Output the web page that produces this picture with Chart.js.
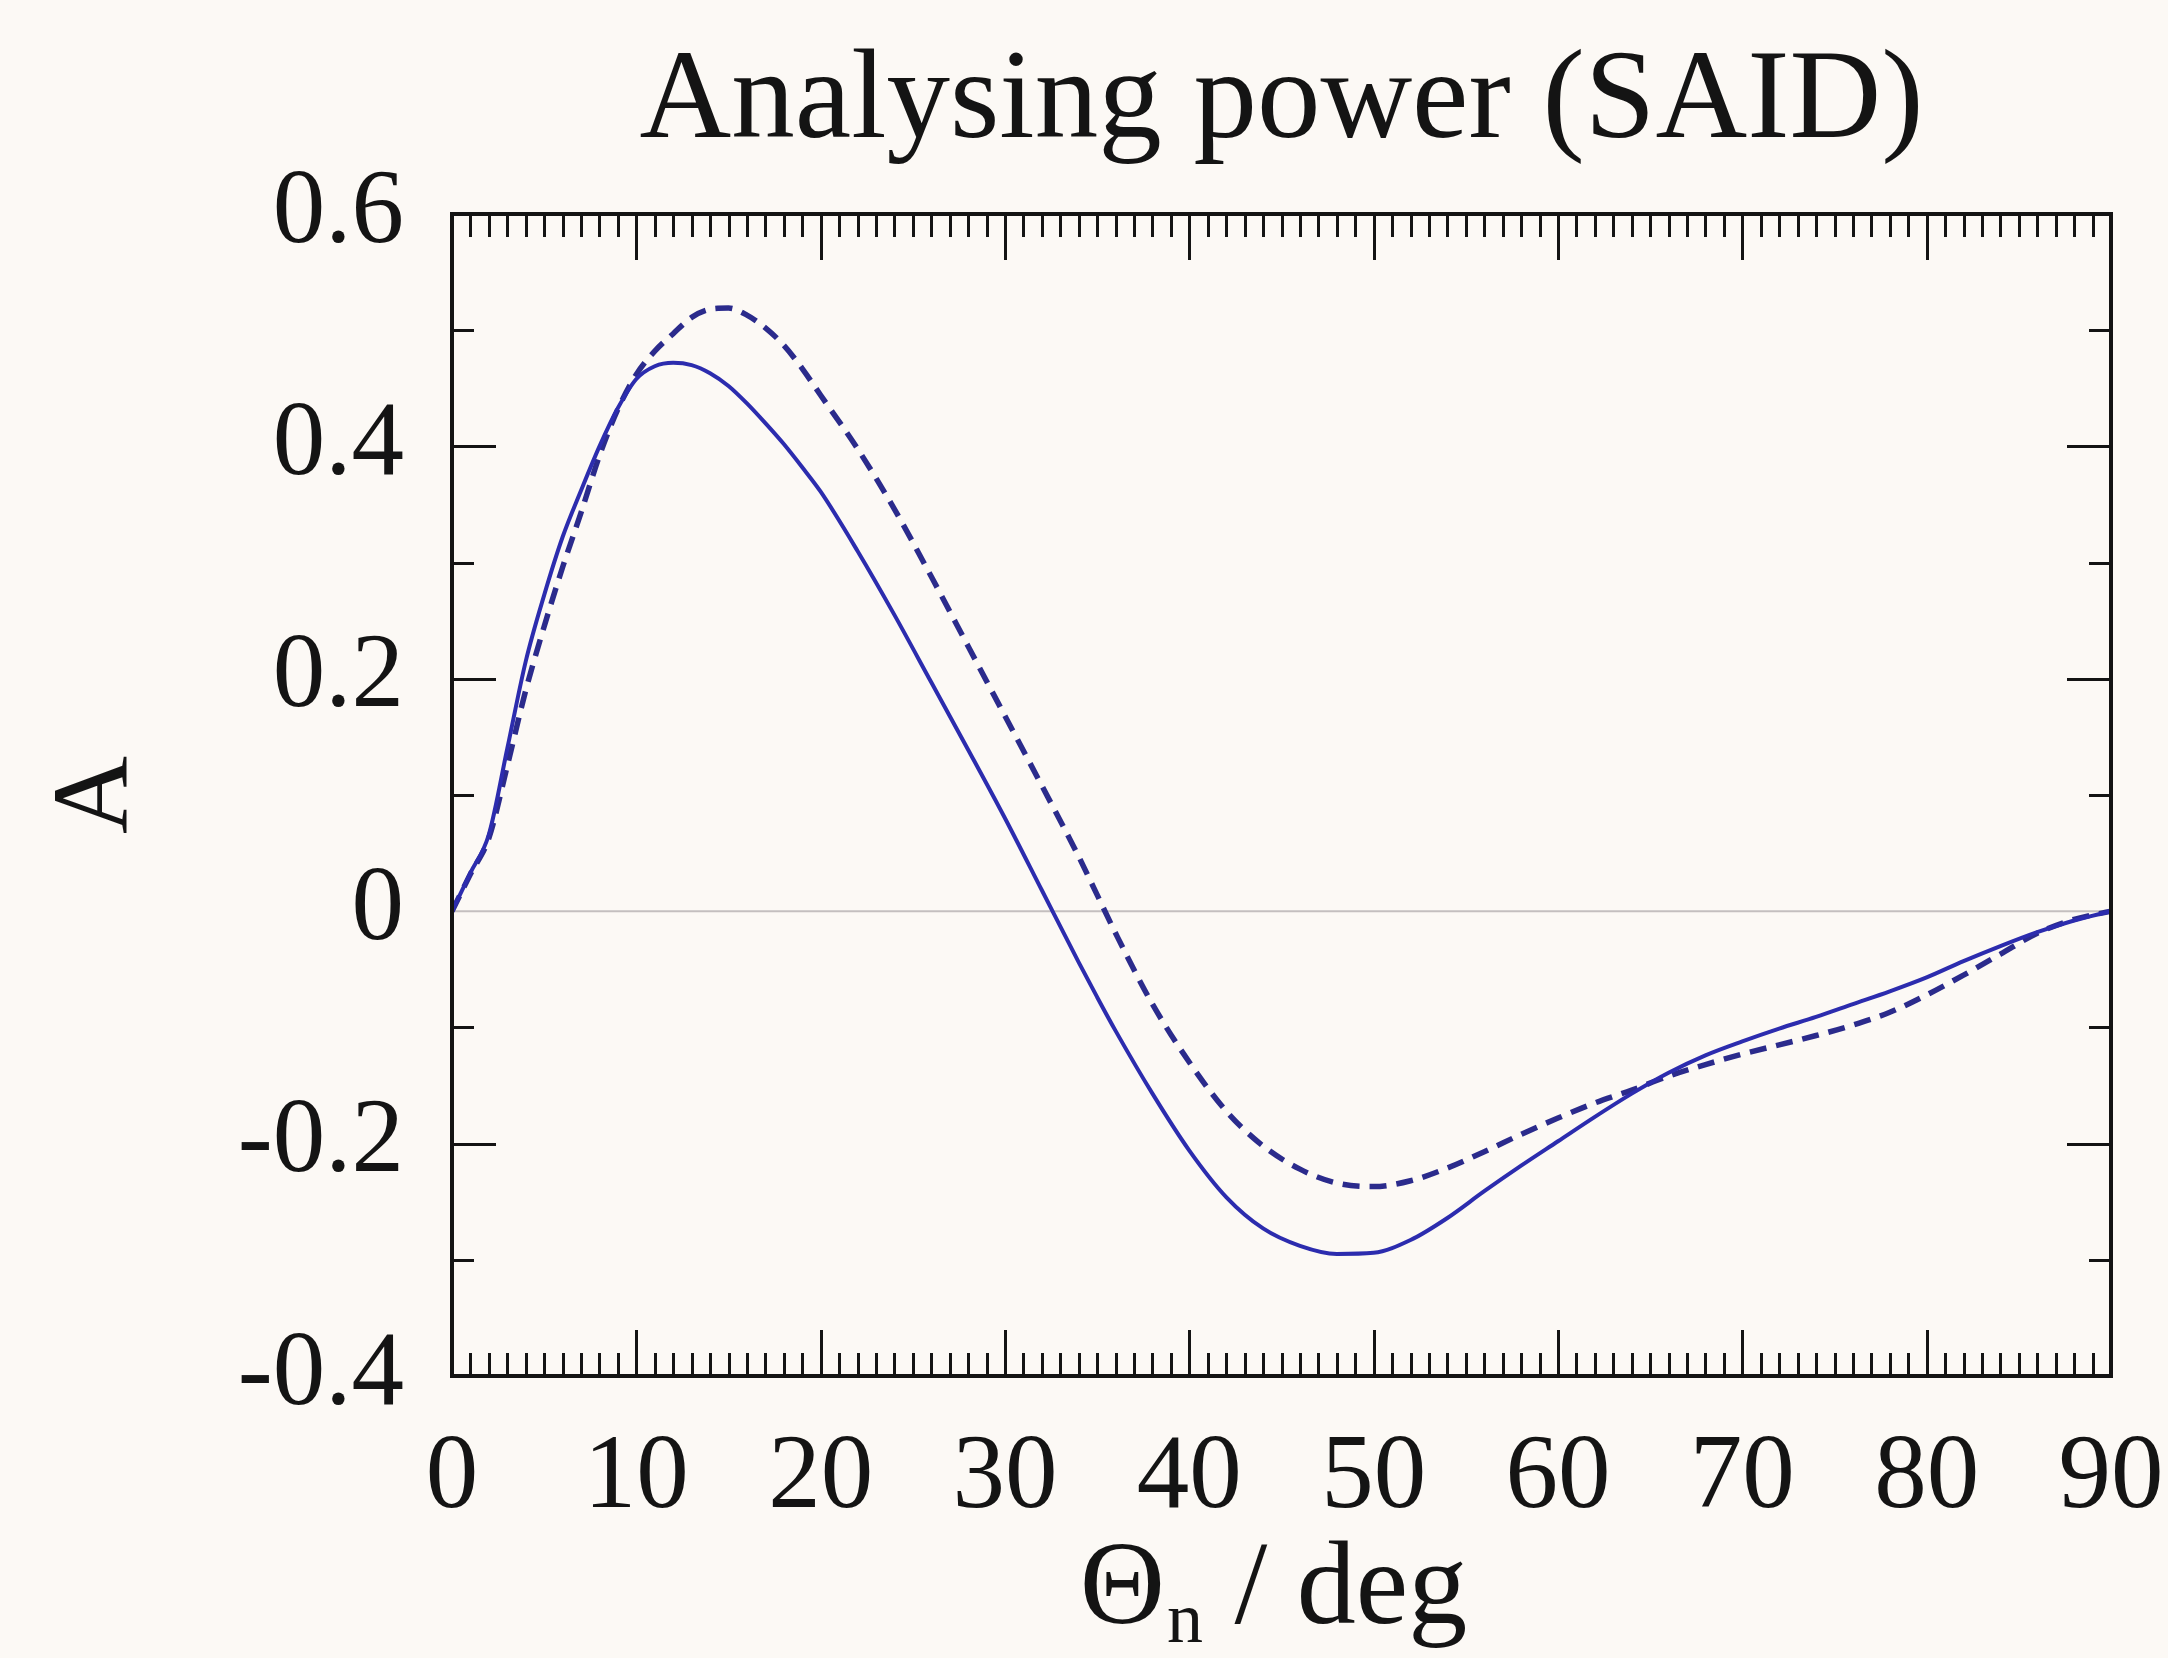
<!DOCTYPE html>
<html>
<head>
<meta charset="utf-8">
<title>Analysing power (SAID)</title>
<script src="https://cdn.jsdelivr.net/npm/chart.js@4.4.1/dist/chart.umd.min.js"></script>
<style>
  html, body { margin: 0; padding: 0; background: #fcf9f5; }
  #wrap { position: relative; width: 2168px; height: 1658px; }
</style>
</head>
<body>
<div id="wrap"><canvas id="chart-ap"></canvas></div>
<script>
// Analysing power A vs. Θn, SAID solution (solid) and comparison curve (dashed)
const ANGLES = [0, 1, 2, 3, 4, 5, 6, 7, 8, 9, 10, 11, 12, 13, 14, 15, 16, 17, 18, 19, 20,
  22, 24, 26, 28, 30, 32, 34, 35, 36, 38, 40, 42, 44, 46, 48, 50, 52, 54, 56, 58, 60,
  62, 64, 66, 68, 70, 72, 74, 76, 78, 80, 82, 84, 86, 88, 90];

const A_SOLID = [0, 0.033, 0.066, 0.14, 0.215, 0.272, 0.322, 0.362, 0.400, 0.433, 0.458,
  0.469, 0.472, 0.470, 0.463, 0.452, 0.437, 0.420, 0.402, 0.382, 0.361,
  0.310, 0.255, 0.197, 0.139, 0.080, 0.018, -0.044, -0.074, -0.103, -0.157, -0.206,
  -0.246, -0.273, -0.288, -0.295, -0.294, -0.283, -0.264, -0.241, -0.219, -0.198,
  -0.177, -0.157, -0.139, -0.124, -0.112, -0.101, -0.091, -0.080, -0.069, -0.057,
  -0.043, -0.030, -0.018, -0.008, 0];

const A_DASHED = [0, 0.032, 0.063, 0.125, 0.19, 0.245, 0.296, 0.343, 0.392, 0.432, 0.462,
  0.482, 0.497, 0.511, 0.518, 0.519, 0.513, 0.502, 0.487, 0.467, 0.444,
  0.398, 0.346, 0.288, 0.228, 0.168, 0.108, 0.047, 0.014, -0.019, -0.080, -0.130,
  -0.172, -0.202, -0.222, -0.234, -0.237, -0.232, -0.221, -0.207, -0.192, -0.178,
  -0.165, -0.154, -0.142, -0.132, -0.123, -0.115, -0.107, -0.098, -0.087, -0.072,
  -0.055, -0.037, -0.019, -0.007, 0];

const X_MIN = 0, X_MAX = 90, X_STEP = 10;
const Y_MIN = -0.4, Y_MAX = 0.6, Y_STEP = 0.2;

const TITLE = 'Analysing power (SAID)';
const SERIF = '"Liberation Serif", "Times New Roman", serif';
const INK = '#141414';
const BG = '#fcf9f5';

const toPts = (ys) => ANGLES.map((x, i) => ({ x, y: ys[i] }));

// paper background
const paperBg = {
  id: 'paperBg',
  beforeDraw(chart) {
    const { ctx, width, height } = chart;
    ctx.save();
    ctx.fillStyle = BG;
    ctx.fillRect(0, 0, width, height);
    ctx.restore();
  },
};

// grey zero line under the curves
const zeroLine = {
  id: 'zeroLine',
  beforeDatasetsDraw(chart) {
    const { ctx, chartArea: a, scales: { y } } = chart;
    const py = y.getPixelForValue(0);
    ctx.save();
    ctx.strokeStyle = '#c4bfbf';
    ctx.lineWidth = 2;
    ctx.beginPath();
    ctx.moveTo(a.left, py);
    ctx.lineTo(a.right, py);
    ctx.stroke();
    ctx.restore();
  },
};

// closed frame with inward major/minor ticks on all four sides
const frameTicks = {
  id: 'frameTicks',
  afterDatasetsDraw(chart) {
    const { ctx, chartArea: a, scales: { x, y } } = chart;
    ctx.save();
    ctx.strokeStyle = INK;
    ctx.lineCap = 'butt';

    ctx.lineWidth = 3;
    for (let i = X_MIN + 1; i < X_MAX; i++) {
      const px = Math.round(x.getPixelForValue(i)) + 0.5;
      const len = i % 10 === 0 ? 46 : 23;
      ctx.beginPath();
      ctx.moveTo(px, a.bottom); ctx.lineTo(px, a.bottom - len);
      ctx.moveTo(px, a.top);    ctx.lineTo(px, a.top + len);
      ctx.stroke();
    }

    for (let k = -3; k <= 5; k++) {
      if (k === 0) continue;
      const py = Math.round(y.getPixelForValue(k / 10)) + 0.5;
      const len = k % 2 === 0 ? 44 : 22;
      ctx.beginPath();
      ctx.moveTo(a.left, py);  ctx.lineTo(a.left + len, py);
      ctx.moveTo(a.right, py); ctx.lineTo(a.right - len, py);
      ctx.stroke();
    }

    ctx.lineWidth = 4;
    ctx.strokeRect(a.left, a.top, a.right - a.left, a.bottom - a.top);
    ctx.restore();
  },
};

// title centred over the plot frame, and x-axis title with subscript: Θn / deg
const headings = {
  id: 'headings',
  afterDraw(chart) {
    const { ctx, chartArea: a } = chart;
    const cx = (a.left + a.right) / 2;
    ctx.save();
    ctx.fillStyle = INK;
    ctx.textBaseline = 'alphabetic';

    ctx.textAlign = 'center';
    ctx.font = `127px ${SERIF}`;
    ctx.fillText(TITLE, cx, 137);

    const big = `118px ${SERIF}`;
    const small = `72px ${SERIF}`;
    const baseline = 1623;
    ctx.textAlign = 'left';
    ctx.font = big;
    const wTheta = ctx.measureText('Θ').width;
    const wRest = ctx.measureText(' / deg').width;
    ctx.font = small;
    const wSub = ctx.measureText('n').width + 4;
    let px = cx - (wTheta + wSub + wRest) / 2 - 8;
    ctx.font = big;
    ctx.fillText('Θ', px, baseline);
    px += wTheta;
    ctx.font = small;
    ctx.fillText('n', px + 2, baseline + 19);
    px += wSub;
    ctx.font = big;
    ctx.fillText(' / deg', px, baseline);
    ctx.restore();
  },
};

const fmtY = (v) => (Math.abs(v) < 1e-9 ? '0' : v.toFixed(1));

new Chart(document.getElementById('chart-ap'), {
  type: 'line',
  data: {
    datasets: [
      {
        label: 'SAID',
        data: toPts(A_SOLID),
        borderColor: '#2c2cae',
        borderWidth: 4,
        pointRadius: 0,
        cubicInterpolationMode: 'monotone',
        fill: false,
      },
      {
        label: 'comparison',
        data: toPts(A_DASHED),
        borderColor: '#2b2b8c',
        borderWidth: 5.5,
        borderDash: [17, 10],
        pointRadius: 0,
        cubicInterpolationMode: 'monotone',
        fill: false,
      },
    ],
  },
  options: {
    responsive: true,
    maintainAspectRatio: false,
    animation: false,
    devicePixelRatio: 1,
    layout: { padding: { left: 20, right: 57, top: 214, bottom: 0 } },
    plugins: {
      legend: { display: false },
      tooltip: { enabled: false },
      title: { display: false },
    },
    scales: {
      x: {
        type: 'linear',
        min: X_MIN,
        max: X_MAX,
        grid: { display: false, drawTicks: false },
        border: { display: false },
        ticks: {
          stepSize: X_STEP,
          padding: 40,
          color: INK,
          maxRotation: 0,
          font: { family: SERIF, size: 105 },
        },
        afterFit(scale) {
          scale.height = 282;
          scale.paddingLeft = 0;
          scale.paddingRight = 0;
        },
      },
      y: {
        type: 'linear',
        min: Y_MIN,
        max: Y_MAX,
        grid: { display: false, drawTicks: false },
        border: { display: false },
        ticks: {
          stepSize: Y_STEP,
          padding: 48,
          color: INK,
          font: { family: SERIF, size: 105 },
          callback: fmtY,
        },
        title: {
          display: true,
          text: 'A',
          color: INK,
          font: { family: SERIF, size: 108 },
          padding: { top: 14, bottom: 0 },
        },
        afterFit(scale) {
          scale.width = 432;
          scale.paddingTop = 0;
          scale.paddingBottom = 0;
        },
      },
    },
  },
  plugins: [paperBg, zeroLine, frameTicks, headings],
});
</script>
</body>
</html>
